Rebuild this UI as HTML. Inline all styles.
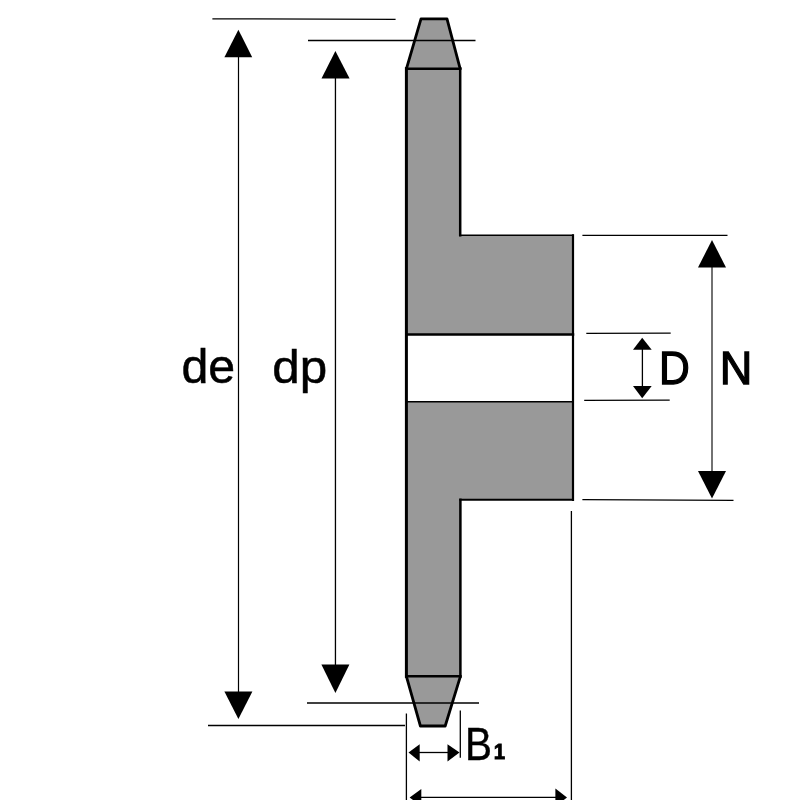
<!DOCTYPE html>
<html><head><meta charset="utf-8">
<style>
html,body{margin:0;padding:0;background:#fff;}
body{width:800px;height:800px;overflow:hidden;}
svg{display:block;will-change:transform;}
text{font-family:"Liberation Sans",sans-serif;fill:#000;}
</style></head><body>
<svg width="800" height="800" viewBox="0 0 800 800">
<rect width="800" height="800" fill="#fff"/>
<!-- sprocket body -->
<path d="M421,19 L447,19 L460.3,68.8 L460.3,235.3 L573,235.3 L573,499.8 L460.3,499.8 L460.3,676.3 L445.2,726 L420.4,726 L406.4,676.3 L406.4,68.8 Z" fill="#999"/>
<rect x="406.4" y="334.5" width="166.6" height="67.25" fill="#fff"/>
<g stroke="#000" fill="none" stroke-linecap="square">
<line x1="406.4" y1="68.8" x2="406.4" y2="676.3" stroke-width="3"/>
<line x1="460.2" y1="68.8" x2="460.2" y2="235.3" stroke-width="2.5"/>
<line x1="460.4" y1="499.8" x2="460.4" y2="676.3" stroke-width="2.5"/>
<line x1="460.2" y1="235.3" x2="573" y2="235.3" stroke-width="1.6"/>
<line x1="573" y1="235.3" x2="573" y2="499.8" stroke-width="2.2"/>
<line x1="460.4" y1="499.8" x2="573" y2="499.8" stroke-width="2"/>
<line x1="406.4" y1="334.5" x2="573" y2="334.5" stroke-width="2.5"/>
<line x1="406.4" y1="401.75" x2="573" y2="401.75" stroke-width="1.6"/>
<line x1="406.4" y1="68.8" x2="460.2" y2="68.8" stroke-width="2.6"/>
<line x1="406.4" y1="676.3" x2="460.4" y2="676.3" stroke-width="2.6"/>
</g>
<path d="M406.4,68.8 L421,18.9 L447,18.9 L460.2,68.8" fill="none" stroke="#000" stroke-width="2.8" stroke-linejoin="round"/>
<path d="M406.4,676.3 L420.4,726 L445.2,726 L460.4,676.3" fill="none" stroke="#000" stroke-width="2.8" stroke-linejoin="round"/>

<g stroke="#000" stroke-width="1.3" fill="none">
<!-- de -->
<line x1="212.4" y1="18.8" x2="395.6" y2="19.3"/>
<line x1="208" y1="725.5" x2="405" y2="725.5"/>
<line x1="238.5" y1="57" x2="238.5" y2="692" stroke-width="1.2"/>
<!-- dp -->
<line x1="308" y1="40.5" x2="475.5" y2="40.5"/>
<line x1="307" y1="703" x2="479" y2="703"/>
<line x1="335.45" y1="78" x2="335.45" y2="665" stroke-width="1.3"/>
<!-- N -->
<line x1="582.4" y1="235.3" x2="727.5" y2="235.3"/>
<line x1="582.4" y1="499.6" x2="733.5" y2="500.4"/>
<line x1="712" y1="267" x2="712" y2="472" stroke="#727272" stroke-width="2"/>
<!-- D -->
<line x1="586.3" y1="333.4" x2="670.7" y2="333.2"/>
<line x1="584.2" y1="400.3" x2="669.7" y2="400.2"/>
<line x1="642.4" y1="349" x2="642.4" y2="387"/>
<!-- B1 -->
<line x1="406.4" y1="713.5" x2="406.4" y2="800"/>
<line x1="460.3" y1="710.5" x2="460.3" y2="757.7"/>
<line x1="419" y1="752.5" x2="448" y2="752.5"/>
<!-- B -->
<line x1="571.4" y1="511" x2="571.4" y2="800"/>
<line x1="420" y1="797.3" x2="556" y2="797.3"/>
</g>
<g fill="#000">
<polygon points="238.4,29.8 252.2,57.2 224.4,57.2"/>
<polygon points="238.4,719 252.4,691.4 224.4,691.4"/>
<polygon points="335.4,51 349.6,78.5 321.5,78.5"/>
<polygon points="335.4,693 349.4,664.6 321.4,664.6"/>
<polygon points="712,240 726,267.5 698,267.5"/>
<polygon points="712,498.5 726,471 698,471"/>
<polygon points="642.2,337.7 651.7,349.7 633,349.7"/>
<polygon points="642.2,398.3 651.7,386 633,386"/>
<polygon points="408.5,752.5 419.7,744.2 419.7,761.5"/>
<polygon points="459.5,752.5 447.5,744.2 447.5,761.5"/>
<polygon points="409.6,797.5 421.3,788.9 421.3,806.1"/>
<polygon points="567,797.5 555.4,788.5 555.4,806.5"/>
</g>
<text transform="translate(181.38,382.75) scale(0.9866,0.9997)" font-size="49" font-weight="normal" stroke="#000" stroke-width="0.5">de</text>
<text transform="translate(272.30,383.19) scale(1.0073,0.9566)" font-size="49" font-weight="normal" stroke="#000" stroke-width="0.5">dp</text>
<text transform="translate(659.12,383.90) scale(0.9692,1.0582)" font-size="44" font-weight="normal" stroke="#000" stroke-width="1.2">D</text>
<text transform="translate(719.85,384.16) scale(1.0035,1.0426)" font-size="45" font-weight="normal" stroke="#000" stroke-width="1.2">N</text>
<text transform="translate(465.06,759.89) scale(0.9411,1.0853)" font-size="43" font-weight="normal" stroke="#000" stroke-width="0.4">B</text>
<text transform="translate(493.83,759.42) scale(0.9251,1.0406)" font-size="22" font-weight="bold" stroke="#000" stroke-width="0.9">1</text>
</svg>
</body></html>
